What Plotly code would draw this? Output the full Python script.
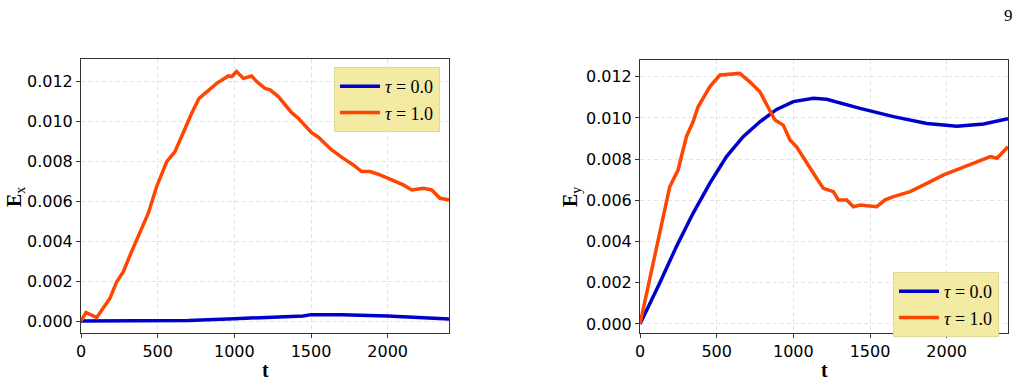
import plotly.graph_objects as go

# ---- data: left panel (E_x) ----
t_ex_tau0 = [0, 500, 700, 1000, 1450, 1500, 1700, 2000, 2400]
ex_tau0 = [0, 0, 0.00003, 0.00012, 0.00025, 0.00032, 0.00032, 0.00025, 0.0001]

t_ex_tau1 = [0, 33, 102, 189, 233, 276, 330, 385, 439, 493, 559, 613, 667, 722, 770,
             830, 885, 961, 983, 1015, 1059, 1113, 1146, 1200, 1233, 1287, 1374, 1417,
             1504, 1548, 1635, 1711, 1776, 1830, 1885, 1950, 2026, 2102, 2157, 2233,
             2287, 2341, 2400]
ex_tau1 = [0, 0.00043, 0.00017, 0.00114, 0.00197, 0.00247, 0.00348, 0.00448, 0.0054,
           0.00673, 0.00799, 0.00849, 0.00949, 0.01041, 0.01116, 0.01158, 0.01191,
           0.01228, 0.01225, 0.0125, 0.01216, 0.01228, 0.012, 0.01166, 0.01158,
           0.01125, 0.01044, 0.01016, 0.00944, 0.00921, 0.00857, 0.00815, 0.00782,
           0.00749, 0.00749, 0.00732, 0.00707, 0.00682, 0.00657, 0.00665, 0.00657,
           0.00615, 0.00607]

# ---- data: right panel (E_y) ----
t_ey_tau0 = [0, 128, 237, 346, 455, 564, 673, 782, 891, 1000, 1130, 1217, 1435, 1653,
             1871, 2067, 2241, 2400]
ey_tau0 = [0, 0.00197, 0.00375, 0.00537, 0.00682, 0.00812, 0.00909, 0.00981, 0.01041,
           0.01079, 0.01095, 0.0109, 0.01046, 0.01006, 0.00973, 0.0096, 0.0097, 0.00996]

t_ey_tau1 = [0, 107, 194, 248, 303, 346, 379, 455, 521, 651, 716, 782, 825, 880, 934,
             978, 1021, 1087, 1152, 1196, 1261, 1294, 1348, 1392, 1435, 1544, 1599,
             1653, 1762, 1871, 1980, 2089, 2198, 2285, 2328, 2400]
ey_tau1 = [0, 0.00359, 0.00666, 0.00747, 0.00909, 0.00981, 0.01054, 0.01151, 0.01208,
           0.01216, 0.01175, 0.01127, 0.0107, 0.0099, 0.00965, 0.00893, 0.0086,
           0.00779, 0.00707, 0.00658, 0.00642, 0.00602, 0.00602, 0.00569, 0.00577,
           0.00569, 0.00602, 0.00618, 0.00642, 0.00682, 0.00723, 0.00755, 0.00788,
           0.00812, 0.00804, 0.0086]

series_names = ["<i>τ</i> = 0.0", "<i>τ</i> = 1.0"]
x_ticks = [0, 500, 1000, 1500, 2000]
y_ticks = [0, 0.002, 0.004, 0.006, 0.008, 0.010, 0.012]

BLUE = "#0000CD"
ORANGE = "#FF4500"
W, H = 1020, 384

fig = go.Figure()
fig.add_trace(go.Scatter(x=t_ex_tau0, y=ex_tau0, mode="lines", name=series_names[0],
                         line=dict(color=BLUE, width=3.5), xaxis="x", yaxis="y", legend="legend"))
fig.add_trace(go.Scatter(x=t_ex_tau1, y=ex_tau1, mode="lines", name=series_names[1],
                         line=dict(color=ORANGE, width=3.5), xaxis="x", yaxis="y", legend="legend"))
fig.add_trace(go.Scatter(x=t_ey_tau0, y=ey_tau0, mode="lines", name=series_names[0],
                         line=dict(color=BLUE, width=3.5), xaxis="x2", yaxis="y2", legend="legend2"))
fig.add_trace(go.Scatter(x=t_ey_tau1, y=ey_tau1, mode="lines", name=series_names[1],
                         line=dict(color=ORANGE, width=3.5), xaxis="x2", yaxis="y2", legend="legend2"))

tickfont = dict(family="DejaVu Sans", size=16, color="#000")
axis_common = dict(showline=True, linecolor="#333", linewidth=1, mirror=True,
                   ticks="outside", ticklen=4, tickcolor="#333", tickfont=tickfont,
                   showgrid=True, gridcolor="#e2e2e2", griddash="4px,3px", gridwidth=0.8,
                   zeroline=False, automargin=False)

lx = [81 / W, 449 / W]
rx = [640 / W, 1008 / W]
ly = [(H - 333) / H, (H - 59) / H]
ry = [(H - 333) / H, (H - 60) / H]

legend_style = dict(bgcolor="rgba(243,235,163,1)", bordercolor="#e0d89a", borderwidth=1,
                    font=dict(family="Liberation Serif", size=18, color="#000"),
                    xanchor="right", yanchor="top", tracegroupgap=0, itemwidth=40)

fig.update_layout(
    width=W, height=H, margin=dict(l=0, r=0, t=0, b=0, autoexpand=False),
    paper_bgcolor="white", plot_bgcolor="white", showlegend=True,
    xaxis=dict(domain=lx, range=[0, 2400], tickvals=x_ticks, anchor="y", **axis_common),
    yaxis=dict(domain=ly, range=[-0.0006, 0.01313], tickvals=y_ticks, tickformat=".3f",
               anchor="x", **axis_common),
    xaxis2=dict(domain=rx, range=[0, 2400], tickvals=x_ticks, anchor="y2", **axis_common),
    yaxis2=dict(domain=ry, range=[-0.00044, 0.01281], tickvals=y_ticks, tickformat=".3f",
                anchor="x2", **axis_common),
    legend=dict(x=440 / W, y=(H - 67) / H, **legend_style),
    legend2=dict(x=999 / W, y=(H - 272) / H, **legend_style),
)

title_font = dict(family="Liberation Serif", size=20, color="#000")
ann = dict(xref="paper", yref="paper", showarrow=False, xanchor="center", yanchor="middle")
fig.add_annotation(text="<b>t</b>", x=(81 + 449) / 2 / W, y=(H - 370) / H, font=title_font, **ann)
fig.add_annotation(text="<b>t</b>", x=(640 + 1008) / 2 / W, y=(H - 370) / H, font=title_font, **ann)
fig.add_annotation(text="<b>E</b><sub>x</sub>", x=16 / W, y=(H - 197) / H, textangle=-90,
                   font=title_font, **ann)
fig.add_annotation(text="<b>E</b><sub>y</sub>", x=572 / W, y=(H - 197) / H, textangle=-90,
                   font=title_font, **ann)
fig.add_annotation(text="9", x=1008 / W, y=(H - 15) / H,
                   font=dict(family="Liberation Serif", size=17, color="#000"), **ann)

fig.write_html("out.html")
